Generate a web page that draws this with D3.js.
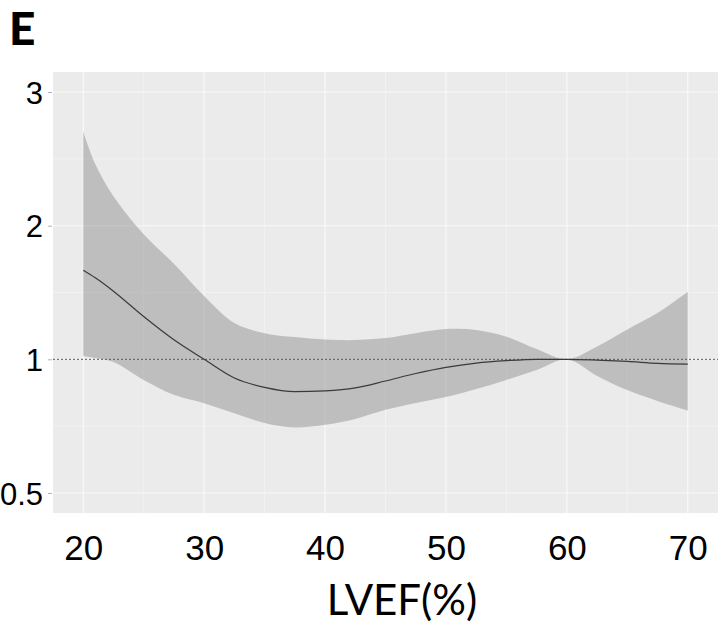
<!DOCTYPE html>
<html>
<head>
<meta charset="utf-8">
<script src="https://cdn.jsdelivr.net/npm/d3@7"></script>
<style>
  html, body { margin: 0; padding: 0; background: #ffffff; }
  svg { display: block; }
</style>
</head>
<body>
<svg id="chart" width="722" height="623"></svg>
<script>
// ---- Data ----
const lvef  = [20, 21, 22.5, 25, 27.5, 30, 32.5, 35, 37.5, 40, 42.5, 45, 47.5, 50, 52.5, 55, 57.5, 60, 62.5, 65, 67.5, 70];
const hr    = [1.667, 1.61, 1.510, 1.320, 1.146, 1.000, 0.930, 0.895, 0.879, 0.882, 0.893, 0.919, 0.947, 0.970, 0.986, 0.995, 1.000, 1.000, 0.997, 0.992, 0.985, 0.982];
const upper = [2.705, 2.459, 2.220, 1.936, 1.715, 1.473, 1.271, 1.196, 1.167, 1.149, 1.144, 1.159, 1.196, 1.226, 1.220, 1.169, 1.077, 1.000, 1.096, 1.224, 1.346, 1.505];
const lower = [1.025, 1.01, 0.990, 0.923, 0.867, 0.836, 0.798, 0.762, 0.745, 0.755, 0.777, 0.811, 0.837, 0.859, 0.889, 0.923, 0.960, 1.000, 0.938, 0.885, 0.844, 0.808];
const xTicks = [20, 30, 40, 50, 60, 70];
const xMinor = [25, 35, 45, 55, 65];
const yTicks = [0.5, 1, 2, 3];
const yTickLabels = ["0.5", "1", "2", "3"];
const refValue = 1;
const xTitle = "LVEF(%)";
const panelTitle = "E";

// ---- Layout ----
const svg = d3.select("#chart");
const panel = { left: 53, top: 72, right: 718, bottom: 513 };

// x: 20..70 with 5% expansion
const xPad = (70 - 20) * 0.05;
const x = d3.scaleLinear().domain([20 - xPad, 70 + xPad]).range([panel.left, panel.right]);

// y: ticks evenly spaced (0.5, 1, 2, 3) with 5% expansion
const yStep = (panel.bottom - panel.top) / 3.3;
const y0 = panel.bottom - yStep * 0.15;
const y = d3.scaleLinear()
  .domain(yTicks)
  .range(yTicks.map((d, i) => y0 - i * yStep));
const yMinor = [0.75, 1.5, 2.5];

// panel background
svg.append("rect")
  .attr("x", panel.left).attr("y", panel.top)
  .attr("width", panel.right - panel.left).attr("height", panel.bottom - panel.top)
  .attr("fill", "#ebebeb");

const grid = svg.append("g");
// minor grid
grid.selectAll(".vminor").data(xMinor).join("line")
  .attr("x1", d => x(d)).attr("x2", d => x(d))
  .attr("y1", panel.top).attr("y2", panel.bottom)
  .attr("stroke", "#f4f4f4").attr("stroke-width", 0.8);
grid.selectAll(".hminor").data(yMinor).join("line")
  .attr("y1", d => y(d)).attr("y2", d => y(d))
  .attr("x1", panel.left).attr("x2", panel.right)
  .attr("stroke", "#f4f4f4").attr("stroke-width", 0.8);
// major grid
grid.selectAll(".vmajor").data(xTicks).join("line")
  .attr("x1", d => x(d)).attr("x2", d => x(d))
  .attr("y1", panel.top).attr("y2", panel.bottom)
  .attr("stroke", "#fafafa").attr("stroke-width", 1.1);
grid.selectAll(".hmajor").data(yTicks).join("line")
  .attr("y1", d => y(d)).attr("y2", d => y(d))
  .attr("x1", panel.left).attr("x2", panel.right)
  .attr("stroke", "#fafafa").attr("stroke-width", 1.1);

// confidence band
const rows = lvef.map((v, i) => ({ x: v, m: hr[i], lo: lower[i], hi: upper[i] }));
const area = d3.area()
  .x(d => x(d.x)).y0(d => y(d.lo)).y1(d => y(d.hi))
  .curve(d3.curveCatmullRom.alpha(0.5));
svg.append("path").datum(rows)
  .attr("d", area)
  .attr("fill", "#919191").attr("fill-opacity", 0.5);

// reference line at 1
svg.append("line")
  .attr("x1", panel.left).attr("x2", panel.right)
  .attr("y1", y(refValue)).attr("y2", y(refValue))
  .attr("stroke", "#555555").attr("stroke-width", 1)
  .attr("stroke-dasharray", "2,2");

// estimate line
const line = d3.line().x(d => x(d.x)).y(d => y(d.m)).curve(d3.curveMonotoneX);
svg.append("path").datum(rows)
  .attr("d", line)
  .attr("fill", "none").attr("stroke", "#3a3a3a").attr("stroke-width", 1.2);

// y axis
const yAxis = d3.axisLeft(y).tickValues(yTicks)
  .tickFormat((d, i) => yTickLabels[i]).tickSize(4).tickPadding(5);
const gy = svg.append("g").attr("transform", `translate(${panel.left - 1},0)`).call(yAxis);
gy.select(".domain").remove();
gy.selectAll(".tick line").attr("stroke", "#a8b0c8");
gy.selectAll(".tick text")
  .attr("fill", "#000").attr("font-family", "'Liberation Sans', Arial, sans-serif")
  .attr("font-size", 31).attr("dy", "0.36em");

// x axis
const xAxis = d3.axisBottom(x).tickValues(xTicks).tickFormat(d3.format("d")).tickSize(0).tickPadding(0);
const gx = svg.append("g").attr("transform", `translate(0,${panel.bottom})`).call(xAxis);
gx.select(".domain").remove();
gx.selectAll(".tick text")
  .attr("fill", "#000").attr("font-family", "'Liberation Sans Narrow', 'Liberation Sans', Arial, sans-serif")
  .attr("font-size", 35).attr("dy", "47");

// x title
svg.append("text")
  .attr("x", 402).attr("y", 615)
  .attr("text-anchor", "middle")
  .attr("font-family", "Lato, 'Liberation Sans', sans-serif")
  .attr("font-size", 42)
  .attr("fill", "#000")
  .text(xTitle);

// panel title
svg.append("text")
  .attr("x", 9).attr("y", 45)
  .attr("font-family", "Lato, 'Liberation Sans', sans-serif")
  .attr("font-weight", 900)
  .attr("font-size", 46)
  .attr("fill", "#000")
  .text(panelTitle);
</script>
</body>
</html>
